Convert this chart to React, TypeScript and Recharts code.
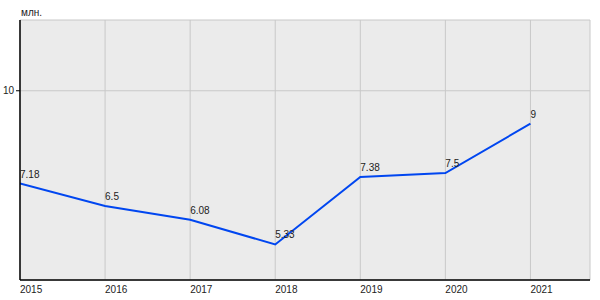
import { LineChart, Line, XAxis, YAxis, CartesianGrid, LabelList } from 'recharts';

const years = [2015, 2016, 2017, 2018, 2019, 2020, 2021];
const values = [7.18, 6.5, 6.08, 5.33, 7.38, 7.5, 9];
const yTicks = [10];

const data = years.map((year, i) => ({ year, value: values[i] }));

const FONT = '"Liberation Sans", Arial, sans-serif';

function YearTick({ x, y, payload }: any) {
  return (
    <text x={x} y={y + 5} textAnchor="start" fontSize={10} fontFamily={FONT} fill="#222">
      {payload.value}
    </text>
  );
}

function ValueLabel({ x, y, value }: any) {
  return (
    <text x={x} y={y - 6} textAnchor="start" fontSize={10} fontFamily={FONT} fill="#222">
      {value}
    </text>
  );
}

export default function App() {
  return (
    <div style={{ position: 'absolute', left: 0, top: 0, width: 600, height: 300 }}>
      <div style={{ position: 'absolute', left: 21, top: 7, fontSize: 10, fontFamily: FONT, color: '#222' }}>
        млн.
      </div>
      <LineChart width={600} height={300} data={data} margin={{ top: 20, right: 10, bottom: 0, left: 0 }}>
        <CartesianGrid fill="#ebebeb" stroke="#c8c8c8" strokeWidth={1} />
        <XAxis
          dataKey="year"
          type="number"
          domain={[2015, 2021.7]}
          ticks={years}
          height={20}
          tickLine={false}
          axisLine={{ stroke: '#000', strokeWidth: 1.5 }}
          tick={<YearTick />}
          interval={0}
          allowDataOverflow
        />
        <YAxis
          type="number"
          domain={[4.25, 12.15]}
          ticks={yTicks}
          width={20}
          tickSize={4}
          tickLine={{ stroke: '#000' }}
          axisLine={{ stroke: '#000', strokeWidth: 1.5 }}
          tick={{ fontSize: 10, fontFamily: FONT, fill: '#222' }}
          allowDataOverflow
        />
        <Line
          type="linear"
          dataKey="value"
          stroke="#0046f0"
          strokeWidth={2}
          dot={false}
          isAnimationActive={false}
        >
          <LabelList dataKey="value" content={<ValueLabel />} />
        </Line>
      </LineChart>
    </div>
  );
}
